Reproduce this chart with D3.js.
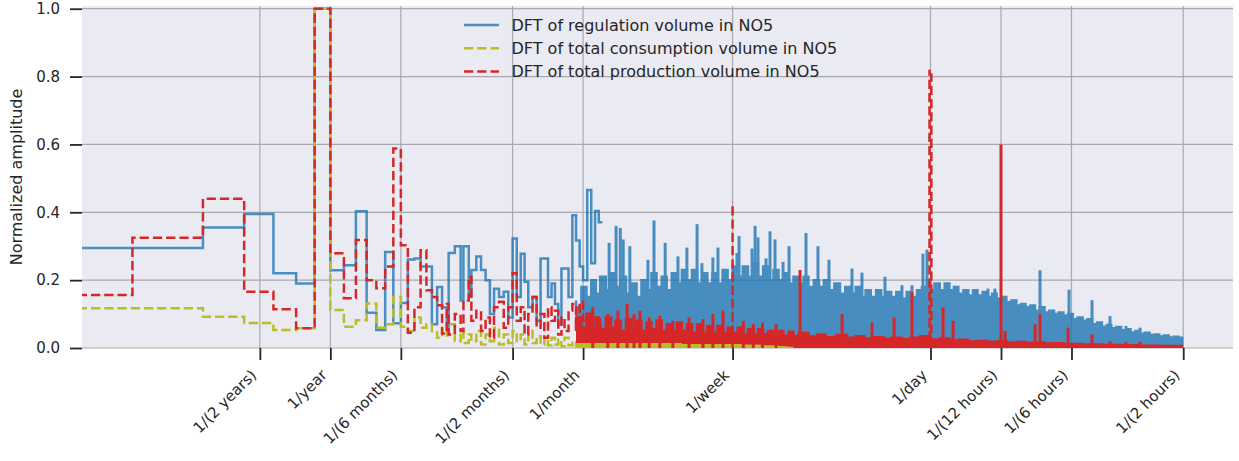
<!DOCTYPE html>
<html>
<head>
<meta charset="utf-8">
<script src="https://cdn.jsdelivr.net/npm/d3@7"></script>
<style>
  body { margin: 0; background: #fff; }
  svg { display: block; font-family: "DejaVu Sans", sans-serif; }
</style>
</head>
<body>
<div id="chart"></div>
<script>
// Frequencies in cycles per year. DFT of a 7 year hourly record,
// so the first bins sit at k / 7 cycles per year.
const RECORD_YEARS = 7;
const X_LIMITS = [0.087, 7150];
const Y_LIMITS = [0, 1.008];

const tickFreqs = [0.5, 1, 2, 6, 12, 365.25 / 7, 365.25, 730.5, 1461, 4383];
const tickLabels = ['1/(2 years)', '1/year', '1/(6 months)', '1/(2 months)', '1/month',
    '1/week', '1/day', '1/(12 hours)', '1/(6 hours)', '1/(2 hours)'];
const yTicks = [0, 0.2, 0.4, 0.6, 0.8, 1.0];

const seriesNames = ['DFT of regulation volume in NO5',
    'DFT of total consumption volume in NO5',
    'DFT of total production volume in NO5'];

// amplitude of bins 1..22
const blueBins = [0.295, 0.295, 0.355, 0.395, 0.22, 0.19, 1.0, 0.229, 0.244, 0.403, 0.104,
    0.053, 0.283, 0.073, 0.133, 0.261, 0.264, 0.24, 0.24, 0.07, 0.18, 0.12];
const yellowBins = [0.117, 0.117, 0.092, 0.074, 0.053, 0.058, 1.0, 0.112, 0.063, 0.082, 0.131,
    0.06, 0.07, 0.15, 0.063, 0.05, 0.09, 0.06, 0.07, 0.05, 0.03, 0.06];
const redBins = [0.156, 0.325, 0.44, 0.166, 0.114, 0.058, 1.0, 0.279, 0.147, 0.318, 0.2,
    0.176, 0.24, 0.588, 0.303, 0.045, 0.12, 0.288, 0.17, 0.15, 0.126, 0.043];

const blueSteps = [[3.2, 0.06], [3.4, 0.28], [3.6, 0.30], [3.7, 0.14], [3.9, 0.30], [4.0, 0.15],
    [4.2, 0.23], [4.4, 0.27], [4.6, 0.23], [4.8, 0.20], [5.0, 0.10], [5.25, 0.175], [5.5, 0.15],
    [5.75, 0.166], [6.0, 0.09], [6.25, 0.323], [6.5, 0.15], [6.75, 0.278], [7.0, 0.195],
    [7.3, 0.12], [7.6, 0.15], [7.9, 0.08], [8.2, 0.264], [8.5, 0.264], [8.8, 0.15], [9.1, 0.19],
    [9.4, 0.13], [9.7, 0.07], [10.0, 0.234], [10.4, 0.234], [10.8, 0.15], [11.2, 0.391],
    [11.6, 0.317], [12.0, 0.24], [12.5, 0.20], [13.0, 0.466], [13.5, 0.25], [14.0, 0.404],
    [14.5, 0.371]];
const yellowSteps = [[3.2, 0.03], [3.4, 0.07], [3.6, 0.02], [3.7, 0.05], [3.9, 0.015], [4.0, 0.04],
    [4.2, 0.02], [4.4, 0.05], [4.6, 0.01], [4.8, 0.04], [5.0, 0.02], [5.25, 0.06], [5.5, 0.01],
    [5.75, 0.04], [6.0, 0.015], [6.25, 0.05], [6.5, 0.02], [6.75, 0.04], [7.0, 0.01], [7.3, 0.05],
    [7.6, 0.015], [7.9, 0.035], [8.2, 0.01], [8.5, 0.03], [8.8, 0.008], [9.1, 0.03], [9.4, 0.01],
    [9.7, 0.025], [10.0, 0.005], [10.4, 0.03], [10.8, 0.008], [11.2, 0.02], [11.6, 0.005],
    [12.0, 0.025]];
const redSteps = [[3.2, 0.13], [3.4, 0.04], [3.6, 0.10], [3.7, 0.05], [3.9, 0.14], [4.0, 0.21],
    [4.2, 0.08], [4.4, 0.11], [4.6, 0.05], [4.8, 0.09], [5.0, 0.03], [5.25, 0.12], [5.5, 0.136],
    [5.75, 0.06], [6.0, 0.12], [6.25, 0.22], [6.5, 0.08], [6.75, 0.12], [7.0, 0.04], [7.3, 0.10],
    [7.6, 0.15], [7.9, 0.06], [8.2, 0.10], [8.5, 0.03], [8.8, 0.12], [9.1, 0.08], [9.4, 0.11],
    [9.7, 0.04], [10.0, 0.09], [10.4, 0.05], [10.8, 0.11], [11.2, 0.13], [11.6, 0.06],
    [12.0, 0.136], [12.5, 0.08], [13.0, 0.10], [13.5, 0.05], [14.0, 0.09], [14.5, 0.06]];

// dense part: [freq, top of the filled body]
const blueBand = [[11.2, 0.14], [11.8, 0.12], [12.4, 0.18], [13, 0.15], [13.6, 0.2], [14.2, 0.16],
    [15, 0.21], [15.8, 0.17], [16.5, 0.22], [17.4, 0.18], [18.3, 0.21], [19.3, 0.16], [20.3, 0.19],
    [21.3, 0.15], [22.4, 0.2], [23.5, 0.17], [24.7, 0.22], [26, 0.18], [27.3, 0.21], [28.7, 0.17],
    [30.2, 0.22], [31.7, 0.19], [33.3, 0.23], [35, 0.2], [36.8, 0.23], [38.7, 0.19], [40.7, 0.22],
    [42.8, 0.19], [45, 0.22], [47.3, 0.19], [49.7, 0.23], [52.2, 0.2], [54.9, 0.24], [57.7, 0.21],
    [60.7, 0.24], [63.8, 0.21], [67, 0.25], [70.5, 0.21], [74, 0.24], [78, 0.2], [82, 0.23],
    [86, 0.2], [90.5, 0.22], [95, 0.19], [100, 0.21], [105, 0.19], [110, 0.21], [116, 0.18],
    [122, 0.2], [128, 0.18], [135, 0.2], [142, 0.17], [150, 0.19], [158, 0.16], [166, 0.18],
    [175, 0.16], [184, 0.18], [193, 0.15], [203, 0.17], [214, 0.15], [225, 0.17], [236, 0.15],
    [248, 0.165], [261, 0.15], [275, 0.165], [289, 0.145], [304, 0.165], [320, 0.15], [336, 0.17],
    [353, 0.18], [365, 0.2], [380, 0.17], [400, 0.19], [420, 0.17], [440, 0.19], [460, 0.17],
    [480, 0.18], [505, 0.16], [530, 0.17], [555, 0.155], [580, 0.17], [610, 0.155], [640, 0.165],
    [670, 0.15], [700, 0.16], [735, 0.145], [770, 0.15], [810, 0.135], [850, 0.14], [890, 0.125],
    [930, 0.13], [975, 0.12], [1020, 0.125], [1070, 0.11], [1120, 0.12], [1175, 0.105],
    [1230, 0.11], [1290, 0.1], [1350, 0.105], [1410, 0.095], [1480, 0.1], [1550, 0.085],
    [1630, 0.09], [1710, 0.08], [1790, 0.085], [1880, 0.07], [1970, 0.075], [2070, 0.063],
    [2160, 0.068], [2270, 0.058], [2380, 0.062], [2500, 0.052], [2610, 0.055], [2740, 0.046],
    [2870, 0.05], [3010, 0.042], [3150, 0.045], [3300, 0.038], [3460, 0.04], [3630, 0.034],
    [3800, 0.037], [3990, 0.031], [4180, 0.033], [4383, 0.03]];
const yellowBand = [[11.2, 0.016], [14, 0.018], [20, 0.02], [30, 0.018], [45, 0.015], [60, 0.012],
    [80, 0.009], [100, 0.006], [4383, 0.004]];
// [freq, bottom, top]
const redBand = [[11.2, 0.015, 0.05], [11.8, 0.015, 0.09], [12.4, 0.015, 0.06], [13, 0.015, 0.1],
    [13.6, 0.015, 0.06], [14.2, 0.015, 0.085], [15, 0.015, 0.055], [15.8, 0.015, 0.09],
    [16.5, 0.015, 0.06], [17.4, 0.015, 0.08], [18.3, 0.015, 0.05], [19.3, 0.015, 0.085],
    [20.3, 0.015, 0.06], [21.3, 0.015, 0.08], [22.4, 0.015, 0.05], [23.5, 0.015, 0.075],
    [24.7, 0.015, 0.055], [26, 0.015, 0.08], [27.3, 0.015, 0.05], [28.7, 0.015, 0.07],
    [30.2, 0.015, 0.05], [31.7, 0.015, 0.075], [33.3, 0.012, 0.05], [35, 0.012, 0.07],
    [36.8, 0.012, 0.045], [38.7, 0.012, 0.07], [40.7, 0.012, 0.045], [42.8, 0.012, 0.065],
    [45, 0.012, 0.045], [47.3, 0.012, 0.065], [49.7, 0.012, 0.045], [52.2, 0.012, 0.06],
    [54.9, 0.012, 0.045], [57.7, 0.012, 0.06], [60.7, 0.01, 0.04], [63.8, 0.01, 0.055],
    [67, 0.01, 0.04], [70.5, 0.01, 0.055], [74, 0.008, 0.04], [78, 0.008, 0.05],
    [82, 0.008, 0.038], [86, 0.006, 0.05], [90.5, 0.005, 0.036], [95, 0.004, 0.048],
    [100, 0, 0.035], [110, 0, 0.045], [120, 0, 0.034], [130, 0, 0.04], [145, 0, 0.032],
    [160, 0, 0.038], [175, 0, 0.03], [190, 0, 0.035], [210, 0, 0.028], [230, 0, 0.032],
    [250, 0, 0.027], [275, 0, 0.03], [300, 0, 0.026], [330, 0, 0.03], [365, 0, 0.035],
    [400, 0, 0.025], [440, 0, 0.028], [480, 0, 0.022], [530, 0, 0.024], [580, 0, 0.019],
    [640, 0, 0.021], [700, 0, 0.018], [770, 0, 0.02], [850, 0, 0.016], [930, 0, 0.018],
    [1020, 0, 0.015], [1120, 0, 0.016], [1230, 0, 0.013], [1350, 0, 0.014], [1480, 0, 0.011],
    [1630, 0, 0.012], [1790, 0, 0.01], [1970, 0, 0.01], [2160, 0, 0.009], [2380, 0, 0.009],
    [2610, 0, 0.008], [2870, 0, 0.008], [3150, 0, 0.007], [3460, 0, 0.007], [3800, 0, 0.006],
    [4180, 0, 0.006], [4383, 0, 0.006]];

// single sharp peaks [freq, amplitude]
const blueSpikes = [[15.5, 0.31], [16.6, 0.36], [17.3, 0.354], [17.8, 0.32], [19.0, 0.30],
    [22.7, 0.26], [24.1, 0.376], [26.9, 0.31], [30.5, 0.27], [33.3, 0.296], [36.8, 0.365],
    [38.6, 0.25], [43.0, 0.267], [45.2, 0.296], [54.5, 0.28], [55.6, 0.33], [63.2, 0.293],
    [65.1, 0.36], [67.0, 0.326], [72.5, 0.264], [75.4, 0.344], [79.2, 0.32], [85.7, 0.254],
    [90.9, 0.30], [107.4, 0.339], [120.8, 0.30], [134.6, 0.26], [168.8, 0.234], [186.2, 0.222],
    [233.5, 0.21], [275.9, 0.185], [304.4, 0.185], [339.2, 0.278], [352.9, 0.29], [642.7, 0.175],
    [688.4, 0.175], [1072, 0.229], [1426, 0.172], [1788, 0.141], [2133, 0.094], [2497, 0.065],
    [2866, 0.06]];
const redSpikes = [[13.2, 0.12], [15.3, 0.1], [16.9, 0.11], [18.5, 0.13], [19.8, 0.1], [21.0, 0.11],
    [23, 0.09], [25.5, 0.095], [29, 0.08], [34, 0.09], [39, 0.085], [43.0, 0.10], [47.5, 0.11],
    [58, 0.08], [64, 0.07], [70, 0.075], [80, 0.07], [101.3, 0.23], [153.1, 0.10], [205.6, 0.075],
    [255.3, 0.09], [304.4, 0.165], [413.3, 0.12], [456.1, 0.08], [730.5, 0.60], [760.2, 0.05],
    [1021, 0.07], [1072, 0.10], [1413, 0.06], [1788, 0.04], [2133, 0.02], [2497, 0.018],
    [2866, 0.018]];
const redDashedSpikes = [[52.18, 0.43], [361.7, 0.82], [368.3, 0.81]];

const colors = { blue: '#1f77b4', yellow: '#bcbd22', red: '#d62728' };

const width = 1239, height = 461;
const plot = { left: 82, right: 1233, top: 6, bottom: 348 };

const svg = d3.select('#chart').append('svg')
    .attr('width', width)
    .attr('height', height);

const x = d3.scaleLog().domain(X_LIMITS).range([plot.left, plot.right]);
const y = d3.scaleLinear().domain(Y_LIMITS).range([plot.bottom, plot.top]);

// Background and grid
svg.append('rect')
    .attr('x', plot.left).attr('y', plot.top)
    .attr('width', plot.right - plot.left).attr('height', plot.bottom - plot.top)
    .attr('fill', '#eaeaf2');

svg.append('clipPath').attr('id', 'plot-clip')
    .append('rect')
    .attr('x', plot.left).attr('y', plot.top)
    .attr('width', plot.right - plot.left).attr('height', plot.bottom - plot.top);

const grid = svg.append('g').attr('stroke', '#a8a8ae').attr('stroke-width', 1.2);
grid.selectAll('.gx').data(tickFreqs).enter().append('line')
    .attr('x1', d => x(d)).attr('x2', d => x(d))
    .attr('y1', plot.top).attr('y2', plot.bottom);
grid.selectAll('.gy').data(yTicks).enter().append('line')
    .attr('x1', plot.left).attr('x2', plot.right)
    .attr('y1', d => y(d)).attr('y2', d => y(d));

// Helpers
const stepLine = d3.line().x(d => x(d[0])).y(d => y(d[1])).curve(d3.curveStepBefore);
const bandArea = d3.area().x(d => x(d[0]))
    .y0(d => y(d.length > 2 ? d[1] : 0))
    .y1(d => y(d.length > 2 ? d[2] : d[1]))
    .curve(d3.curveStepBefore);
const bandTop = d3.line().x(d => x(d[0])).y(d => y(d.length > 2 ? d[2] : d[1]))
    .curve(d3.curveStepBefore);

function stepPoints(bins, steps) {
    // bin 0 is off the left edge of the log axis
    const pts = [[X_LIMITS[0] / 2, bins[0]]];
    bins.forEach((v, i) => pts.push([(i + 1) / RECORD_YEARS, v]));
    return pts.concat(steps);
}

function drawSeries(g, color, bins, steps, band, spikes, dashed, bandStroke) {
    g.append('path')
        .datum(stepPoints(bins, steps))
        .attr('d', stepLine)
        .attr('fill', 'none')
        .attr('stroke', color)
        .attr('stroke-width', 2.5)
        .attr('stroke-dasharray', dashed ? '9.25,4' : null);

    g.append('path')
        .datum(band)
        .attr('d', bandArea)
        .attr('fill', color);
    g.append('path')
        .datum(band)
        .attr('d', bandTop)
        .attr('fill', 'none')
        .attr('stroke', color)
        .attr('stroke-width', bandStroke);

    g.selectAll('.spike').data(spikes).enter().append('line')
        .attr('x1', d => x(d[0])).attr('x2', d => x(d[0]))
        .attr('y1', y(0)).attr('y2', d => y(d[1]))
        .attr('stroke', color)
        .attr('stroke-width', 3);
}

const data = svg.append('g').attr('clip-path', 'url(#plot-clip)');

const blueG = data.append('g').attr('opacity', 0.8);
drawSeries(blueG, colors.blue, blueBins, blueSteps, blueBand, blueSpikes, false, 2.5);

const yellowG = data.append('g');
drawSeries(yellowG, colors.yellow, yellowBins, yellowSteps, yellowBand, [], true, 1.5);

const redG = data.append('g');
drawSeries(redG, colors.red, redBins, redSteps, redBand, redSpikes, true, 2.5);
redG.selectAll('.dspike').data(redDashedSpikes).enter().append('line')
    .attr('x1', d => x(d[0])).attr('x2', d => x(d[0]))
    .attr('y1', y(0)).attr('y2', d => y(d[1]))
    .attr('stroke', colors.red)
    .attr('stroke-width', 2.5)
    .attr('stroke-dasharray', '9.25,4')
    .attr('stroke-dashoffset', (d, i) => i * 6);

// Axes
const xAxis = svg.append('g')
    .attr('transform', `translate(0,${plot.bottom})`)
    .call(d3.axisBottom(x).tickValues(tickFreqs).tickFormat((d, i) => tickLabels[i]).tickSize(12));
xAxis.select('.domain').remove();
xAxis.selectAll('.tick line').attr('stroke', '#262626').attr('stroke-width', 1.8);
xAxis.selectAll('.tick text')
    .attr('x', 0).attr('y', 0).attr('dy', 0)
    .attr('text-anchor', 'end')
    .attr('transform', 'translate(-3,28) rotate(-45)')
    .attr('font-size', 15)
    .attr('font-family', 'DejaVu Sans')
    .attr('fill', '#262626');

const yAxis = svg.append('g')
    .attr('transform', `translate(${plot.left},0)`)
    .call(d3.axisLeft(y).tickValues(yTicks).tickFormat(d3.format('.1f')).tickSize(12).tickPadding(10));
yAxis.select('.domain').remove();
yAxis.selectAll('.tick line').attr('stroke', '#262626').attr('stroke-width', 1.8);
yAxis.selectAll('.tick text')
    .attr('font-size', 15)
    .attr('font-family', 'DejaVu Sans')
    .attr('fill', '#262626');

svg.append('text')
    .attr('transform', `translate(22,${(plot.top + plot.bottom) / 2}) rotate(-90)`)
    .attr('text-anchor', 'middle')
    .attr('font-size', 16)
    .attr('fill', '#262626')
    .text('Normalized amplitude');

// Legend
const legendItems = [
    { name: seriesNames[0], color: colors.blue, dash: null, opacity: 0.8 },
    { name: seriesNames[1], color: colors.yellow, dash: '9.25,4', opacity: 1 },
    { name: seriesNames[2], color: colors.red, dash: '9.25,4', opacity: 1 }
];
const legend = svg.append('g').attr('transform', 'translate(464,25)');
const rows = legend.selectAll('g').data(legendItems).enter().append('g')
    .attr('transform', (d, i) => `translate(0,${i * 23.3})`);
rows.append('line')
    .attr('x1', 0).attr('x2', 35)
    .attr('stroke', d => d.color)
    .attr('stroke-opacity', d => d.opacity)
    .attr('stroke-width', 2.5)
    .attr('stroke-dasharray', d => d.dash);
rows.append('text')
    .attr('x', 47.5)
    .attr('dy', '0.36em')
    .attr('font-size', 16)
    .attr('fill', '#262626')
    .text(d => d.name);
</script>
</body>
</html>
